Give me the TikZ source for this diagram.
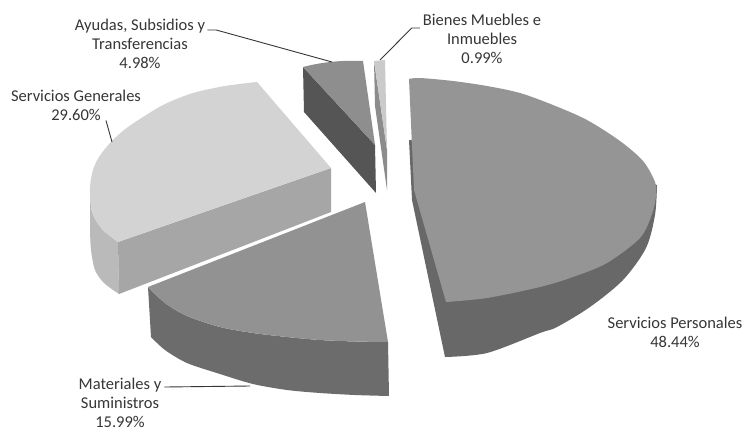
\documentclass[tikz,border=0pt]{standalone}
\usepackage{fontspec}
\setmainfont{Carlito}
\usetikzlibrary{calc}
\definecolor{txt}{HTML}{363636}
\definecolor{spTop}{HTML}{959595}
\definecolor{spSide}{HTML}{686868}
\definecolor{myTop}{HTML}{929292}
\definecolor{mySide}{HTML}{6C6C6C}
\definecolor{sgTop}{HTML}{D3D3D3}
\definecolor{sgFront}{HTML}{A6A6A6}
\definecolor{sgOuter}{HTML}{BABABA}
\definecolor{ayTop}{HTML}{8E8E8E}
\definecolor{aySide}{HTML}{555555}
\definecolor{bmTop}{HTML}{CACACA}
\definecolor{bmSide}{HTML}{8C8C8C}
\begin{document}
\begin{tikzpicture}[x=1pt,y=-1pt,
  lbl/.style={font=\fontsize{16.5}{19}\selectfont, text=txt, align=center, inner sep=0pt},
  lead/.style={draw=txt, line width=0.9pt}
]
\useasboundingbox[fill=white] (0,0) rectangle (746,431);

% --- Ayudas, Subsidios y Transferencias (back) ---
\fill[aySide] (303,67) -- (375,145) -- (376,193) -- (304,112) -- cycle;
\fill[ayTop] (303,67) .. controls (322,62) and (343,60) .. (363,61) -- (375,145) -- cycle;

% --- Bienes Muebles e Inmuebles ---
\fill[bmSide] (374,61) -- (387,150) -- (387,190) -- (375,106) -- cycle;
\fill[bmTop] (374,61) -- (385,60) -- (387,150) -- cycle;

% --- Servicios Generales ---
\fill[sgOuter] plot[smooth] coordinates {(90,188) (92,212) (102,229) (118,242)}
   -- (119,294) -- plot[smooth] coordinates {(119,294) (104,283) (95,270) (91,250) (90,230)} -- cycle;
\fill[sgFront] (118,242) -- (331,168) -- (331,212) -- (119,294) -- cycle;
\fill[sgTop] (257,82) -- plot[smooth] coordinates {(257,82) (225,86) (193,93) (165,104) (143,117) (124,130) (110,143) (99,157) (93,170) (90,188) (92,212) (102,229) (118,242)} -- (331,168) -- cycle;

% --- Materiales y Suministros ---
\fill[mySide] plot[smooth] coordinates {(148,287) (165,303) (187,316) (220,327) (253,333) (287,337) (320,340) (355,341.5) (388,342)}
   -- (389,396) -- plot[smooth] coordinates {(389,396) (355,395) (320,393) (287,390) (253,384) (220,374) (187,363) (165,350) (151,337)} -- cycle;
\fill[myTop] (365,202) -- (148,287) -- plot[smooth] coordinates {(148,287) (165,303) (187,316) (220,327) (253,333) (287,337) (320,340) (355,341.5) (388,342)} -- cycle;

% --- Servicios Personales ---
\fill[spSide] (657,185) -- plot[smooth] coordinates {(657,185) (655,215) (646,248) (623,280) (590,307) (557,327) (540,333) (487,353) (445,357)}
   -- (412,200) -- (409,140) -- (500,150) -- cycle;
\fill[spTop] (409,79) -- plot[smooth] coordinates {(409,79) (420,78) (453,81) (487,86) (520,93) (553,105) (587,120) (620,141) (643,161) (655,182) (656,196) (652,214) (640,238) (607,263) (573,277) (540,287) (487,298) (446,302)} -- (414,190) -- cycle;

% --- anchor points of the leader lines ---
\coordinate (ayP) at (332,62);
\coordinate (bmP) at (380,60);
\coordinate (sgP) at (112,142);
\coordinate (myP) at (250,386);

% --- labels ---
\node[lbl] (ayL) at (140,44) {Ayudas, Subsidios y\\Transferencias\\4.98\%};
\node[lbl] (bmL) at (482,39) {Bienes Muebles e\\Inmuebles\\0.99\%};
\node[lbl] (sgL) at (76,105) {Servicios Generales\\29.60\%};
\node[lbl] (spL) at (675,332) {Servicios Personales\\48.44\%};
\node[lbl] (myL) at (120,403) {Materiales y\\Suministros\\15.99\%};

% --- leader lines ---
\draw[lead] ($(ayL.north east)+(2,11)$) -- ++(9,0) -- (ayP);
\draw[lead] ($(bmL.north west)+(-3,14)$) -- ++(-8,0) -- (bmP);
\draw[lead] ($(sgL.south)+(30,0)$) -- (sgP);
\draw[lead] ($(myL.north east)+(3,9)$) -- (myP);
\end{tikzpicture}
\end{document}
